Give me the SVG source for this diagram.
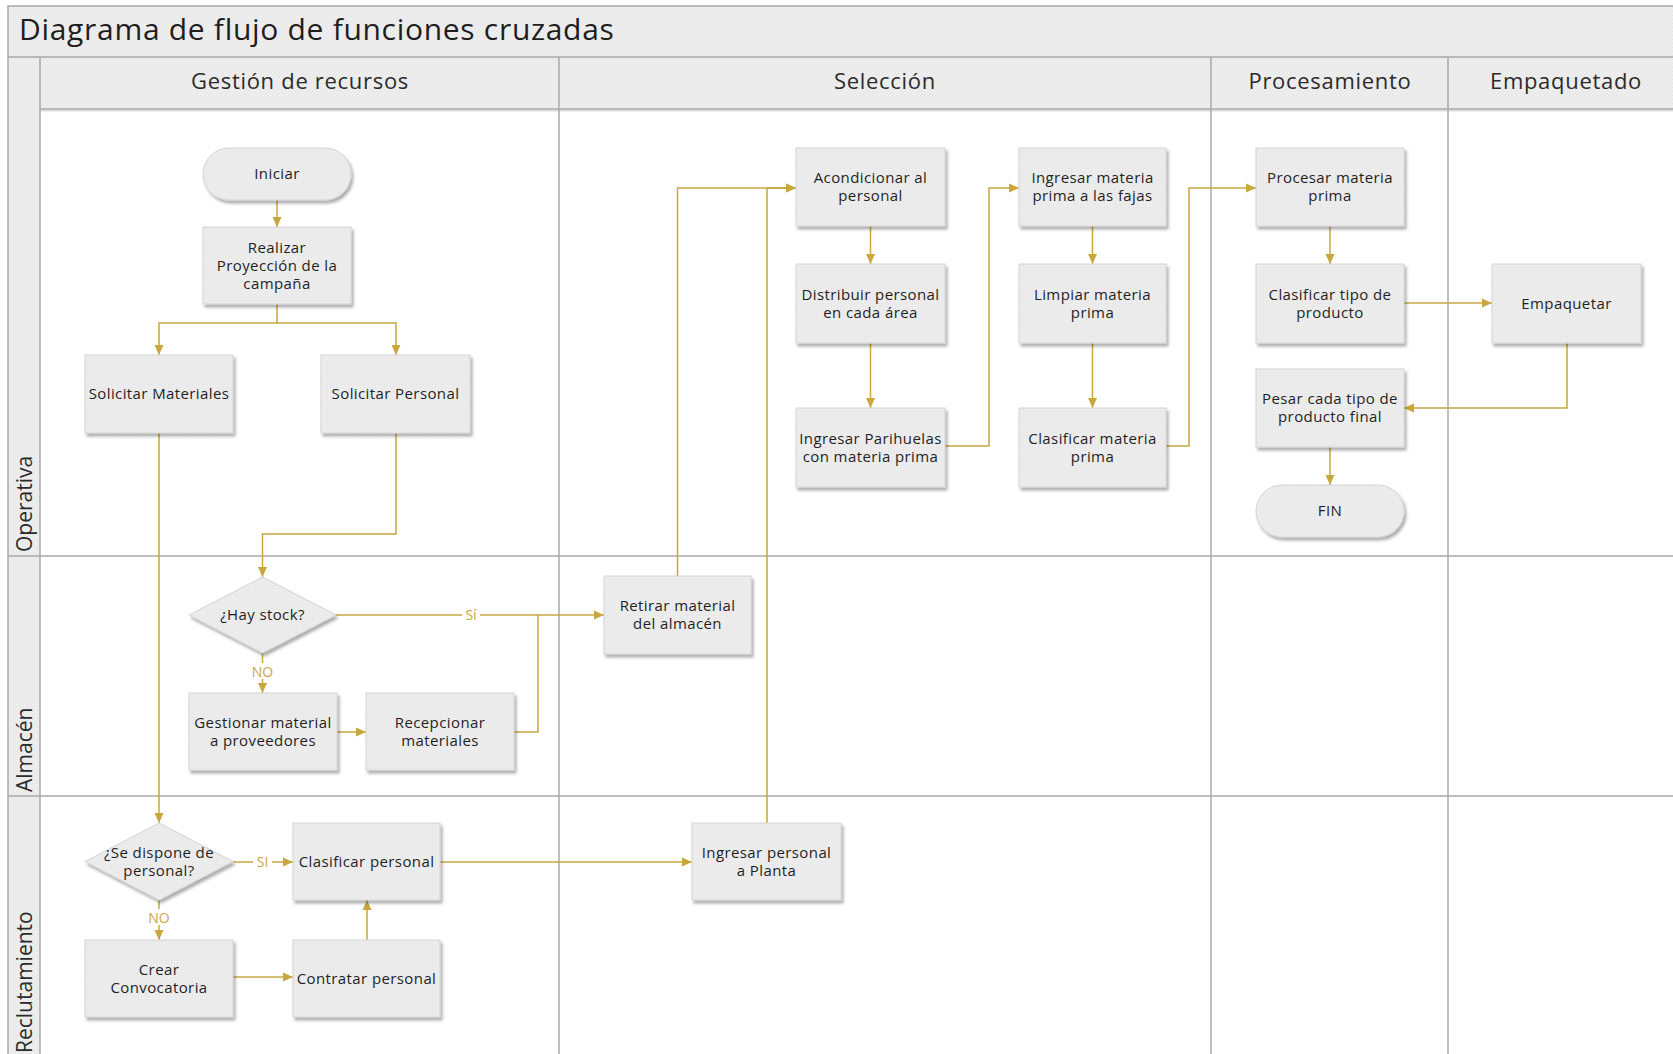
<svg xmlns="http://www.w3.org/2000/svg" width="1673" height="1054" viewBox="0 0 1673 1054">
<defs>
<pattern id="hatch" width="4" height="4" patternUnits="userSpaceOnUse">
<rect width="4" height="4" fill="#eeeeee"/>
<path d="M0,4 L4,0" stroke="#e2e2e2" stroke-width="0.8"/>
</pattern>
<pattern id="nodefill" width="3" height="3" patternUnits="userSpaceOnUse">
<rect width="3" height="3" fill="#ececec"/>
<rect width="1" height="1" fill="#e4e4e4"/>
</pattern>
<filter id="sh" x="-10%" y="-10%" width="130%" height="140%">
<feDropShadow dx="2" dy="3" stdDeviation="1.6" flood-color="#000" flood-opacity="0.32"/>
</filter>
<marker id="arr" viewBox="0 0 10 10" refX="10" refY="5" markerWidth="10" markerHeight="10" markerUnits="userSpaceOnUse" orient="auto">
<path d="M0,0.5 L10,5 L0,9.5 z" fill="#c9a73f"/>
</marker>
<style>
.grid{stroke:#a9a9a9;stroke-width:1.5;fill:none}
.hdr{font-family:"Open Sans","Noto Sans","Liberation Sans",sans-serif;font-size:22px;letter-spacing:0.7px;fill:#2b2b2b;text-anchor:middle}
.lane{font-family:"Open Sans","Noto Sans","Liberation Sans",sans-serif;font-size:21px;fill:#2b2b2b}
.title{font-family:"Open Sans","Noto Sans","Liberation Sans",sans-serif;font-size:30px;letter-spacing:0.7px;fill:#1e1e1e}
.box{fill:url(#nodefill);stroke:#d4d4d4;stroke-width:1;filter:url(#sh)}
.t{font-family:"Open Sans","Noto Sans","Liberation Sans",sans-serif;font-size:15px;letter-spacing:0.4px;fill:#1f1f1f;text-anchor:middle}
.c{fill:none;stroke:#c9a73f;stroke-width:1.5}
.ca{fill:none;stroke:#c9a73f;stroke-width:1.5;marker-end:url(#arr)}
.lbl{font-family:"Open Sans","Noto Sans","Liberation Sans",sans-serif;font-size:14px;fill:#c9a73f;text-anchor:middle}
</style>
</defs>

<g id="background">
<rect x="0" y="0" width="1673" height="1054" fill="#ffffff"/>
<rect x="8" y="6" width="1665" height="51" fill="url(#hatch)"/>
<rect x="8" y="57" width="1665" height="52" fill="url(#hatch)"/>
<rect x="8" y="57" width="32" height="997" fill="url(#hatch)"/>
<line x1="40" y1="110.5" x2="1673" y2="110.5" stroke="#dcdcdc" stroke-width="2"/>
</g>

<g id="grid">
<path class="grid" d="M8,1054 V6 H1673"/>
<path class="grid" d="M8,57 H1673"/>
<path class="grid" d="M40,57 V1054"/>
<path class="grid" d="M40,109 H1673"/>
<path class="grid" d="M559,57 V1054"/>
<path class="grid" d="M1211,57 V1054"/>
<path class="grid" d="M1448,57 V1054"/>
<path class="grid" d="M8,556 H1673"/>
<path class="grid" d="M8,796 H1673"/>
</g>

<g id="title"><text class="title" x="19" y="40">Diagrama de flujo de funciones cruzadas</text></g>

<g id="headers">
<text class="hdr" x="300" y="89">Gestión de recursos</text>
<text class="hdr" x="885" y="89">Selección</text>
<text class="hdr" x="1330" y="89">Procesamiento</text>
<text class="hdr" x="1566" y="89">Empaquetado</text>
<text class="lane" transform="translate(32,552) rotate(-90)">Operativa</text>
<text class="lane" transform="translate(32,792) rotate(-90)">Almacén</text>
<text class="lane" transform="translate(32,1053) rotate(-90)">Reclutamiento</text>
</g>

<g id="connectors">
<path class="ca" d="M277,200 V227"/>
<path class="ca" d="M277,304 V323 H159 V355"/>
<path class="ca" d="M277,323 H396 V355"/>
<path class="ca" d="M159,433 V823"/>
<path class="ca" d="M396,433 V534 H262.5 V577"/>
<path class="ca" d="M336,615 H604"/>
<path class="ca" d="M262.5,653 V693"/>
<path class="ca" d="M337,732 H366"/>
<path class="c" d="M514,732 H538 V615"/>
<path class="ca" d="M677.5,576 V188 H796"/>
<path class="ca" d="M233,862 H293"/>
<path class="ca" d="M159,900 V940"/>
<path class="ca" d="M233,977 H293"/>
<path class="ca" d="M367,940 V900"/>
<path class="ca" d="M440,862 H692"/>
<path class="ca" d="M767,823 V188 H796"/>
<path class="ca" d="M870.5,226 V264"/>
<path class="ca" d="M870.5,343 V408"/>
<path class="ca" d="M945,446 H989 V188 H1019"/>
<path class="ca" d="M1092.5,226 V264"/>
<path class="ca" d="M1092.5,343 V408"/>
<path class="ca" d="M1166,446 H1189 V188 H1256"/>
<path class="ca" d="M1330,226 V264"/>
<path class="ca" d="M1404,303 H1492"/>
<path class="ca" d="M1567,343 V408 H1404"/>
<path class="ca" d="M1330,447 V485"/>
<rect x="462" y="606" width="18" height="17" fill="#ffffff"/>
<text class="lbl" x="471" y="620">Sí</text>
<rect x="250" y="663" width="25" height="16" fill="#ffffff"/>
<text class="lbl" x="262.5" y="677">NO</text>
<rect x="253" y="853" width="19" height="17" fill="#ffffff"/>
<text class="lbl" x="262.5" y="867">SI</text>
<rect x="147" y="909" width="25" height="16" fill="#ffffff"/>
<text class="lbl" x="159" y="923">NO</text>
</g>

<g id="n-iniciar"><rect class="box" x="203" y="148" width="148" height="52" rx="26"/><text class="t" x="277" y="179">Iniciar</text></g>
<g id="n-realizar"><rect class="box" x="203" y="227" width="148" height="77"/><text class="t" x="277" y="253"><tspan x="277">Realizar</tspan><tspan x="277" dy="18">Proyección de la</tspan><tspan x="277" dy="18">campaña</tspan></text></g>
<g id="n-sol-mat"><rect class="box" x="85" y="355" width="148" height="78"/><text class="t" x="159" y="399">Solicitar Materiales</text></g>
<g id="n-sol-per"><rect class="box" x="321" y="355" width="149" height="78"/><text class="t" x="395.5" y="399">Solicitar Personal</text></g>
<g id="n-stock"><path class="box" d="M262.5,577 L336,615 L262.5,653 L189,615 z"/><text class="t" x="262.5" y="620">¿Hay stock?</text></g>
<g id="n-gestionar"><rect class="box" x="189" y="693" width="148" height="77"/><text class="t" x="263" y="727.5"><tspan x="263">Gestionar material</tspan><tspan x="263" dy="18">a proveedores</tspan></text></g>
<g id="n-recepcionar"><rect class="box" x="366" y="693" width="148" height="77"/><text class="t" x="440" y="727.5"><tspan x="440">Recepcionar</tspan><tspan x="440" dy="18">materiales</tspan></text></g>
<g id="n-retirar"><rect class="box" x="604" y="576" width="147" height="78"/><text class="t" x="677.5" y="611"><tspan x="677.5">Retirar material</tspan><tspan x="677.5" dy="18">del almacén</tspan></text></g>
<g id="n-dispone"><path class="box" d="M159,823 L233,861.5 L159,900 L85,861.5 z"/><text class="t" x="159" y="857.5"><tspan x="159">¿Se dispone de</tspan><tspan x="159" dy="18">personal?</tspan></text></g>
<g id="n-clas-per"><rect class="box" x="293" y="823" width="147" height="77"/><text class="t" x="366.5" y="866.5">Clasificar personal</text></g>
<g id="n-crear"><rect class="box" x="85" y="940" width="148" height="77"/><text class="t" x="159" y="974.5"><tspan x="159">Crear</tspan><tspan x="159" dy="18">Convocatoria</tspan></text></g>
<g id="n-contratar"><rect class="box" x="293" y="940" width="147" height="77"/><text class="t" x="366.5" y="983.5">Contratar personal</text></g>
<g id="n-ing-per"><rect class="box" x="692" y="823" width="149" height="77"/><text class="t" x="766.5" y="857.5"><tspan x="766.5">Ingresar personal</tspan><tspan x="766.5" dy="18">a Planta</tspan></text></g>
<g id="n-acond"><rect class="box" x="796" y="148" width="149" height="78"/><text class="t" x="870.5" y="183"><tspan x="870.5">Acondicionar al</tspan><tspan x="870.5" dy="18">personal</tspan></text></g>
<g id="n-distribuir"><rect class="box" x="796" y="264" width="149" height="79"/><text class="t" x="870.5" y="299.5"><tspan x="870.5">Distribuir personal</tspan><tspan x="870.5" dy="18">en cada área</tspan></text></g>
<g id="n-parihuelas"><rect class="box" x="796" y="408" width="149" height="79"/><text class="t" x="870.5" y="443.5"><tspan x="870.5">Ingresar Parihuelas</tspan><tspan x="870.5" dy="18">con materia prima</tspan></text></g>
<g id="n-ing-mp"><rect class="box" x="1019" y="148" width="147" height="78"/><text class="t" x="1092.5" y="183"><tspan x="1092.5">Ingresar materia</tspan><tspan x="1092.5" dy="18">prima a las fajas</tspan></text></g>
<g id="n-limpiar"><rect class="box" x="1019" y="264" width="147" height="79"/><text class="t" x="1092.5" y="299.5"><tspan x="1092.5">Limpiar materia</tspan><tspan x="1092.5" dy="18">prima</tspan></text></g>
<g id="n-clas-mp"><rect class="box" x="1019" y="408" width="147" height="79"/><text class="t" x="1092.5" y="443.5"><tspan x="1092.5">Clasificar materia</tspan><tspan x="1092.5" dy="18">prima</tspan></text></g>
<g id="n-procesar"><rect class="box" x="1256" y="148" width="148" height="78"/><text class="t" x="1330" y="183"><tspan x="1330">Procesar materia</tspan><tspan x="1330" dy="18">prima</tspan></text></g>
<g id="n-clas-tipo"><rect class="box" x="1256" y="264" width="148" height="79"/><text class="t" x="1330" y="299.5"><tspan x="1330">Clasificar tipo de</tspan><tspan x="1330" dy="18">producto</tspan></text></g>
<g id="n-pesar"><rect class="box" x="1256" y="369" width="148" height="78"/><text class="t" x="1330" y="404"><tspan x="1330">Pesar cada tipo de</tspan><tspan x="1330" dy="18">producto final</tspan></text></g>
<g id="n-fin"><rect class="box" x="1256" y="485" width="148" height="52" rx="26"/><text class="t" x="1330" y="516">FIN</text></g>
<g id="n-empaquetar"><rect class="box" x="1492" y="264" width="149" height="79"/><text class="t" x="1566.5" y="308.5">Empaquetar</text></g>
</svg>
